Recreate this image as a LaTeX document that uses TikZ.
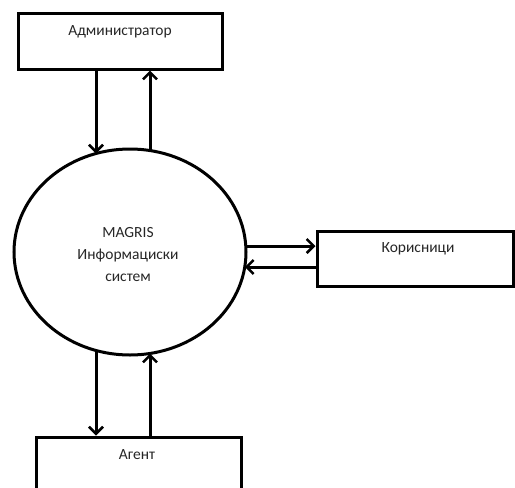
\documentclass[tikz,border=0pt]{standalone}
\usepackage{fontspec}
\setmainfont{Carlito}
\usetikzlibrary{shapes.geometric,arrows.meta}
\tikzset{
  px/.style={x=1pt,y=-1pt},
  entity/.style={draw=black,line width=3pt,rectangle,inner sep=0pt},
  proc/.style={draw=black,line width=3pt,ellipse,inner sep=0pt,minimum width=232pt,minimum height=206pt},
  lbl/.style={text=black!85,font=\fontsize{15.5}{22}\selectfont,align=center,inner sep=0pt},
  flow/.style={line width=3pt,-{Straight Barb[length=7pt,width=14pt,line width=2.5pt]}}
}
\begin{document}
\begin{tikzpicture}[px]
\useasboundingbox (0,0) rectangle (515,488);
% boxes
\node[entity,minimum width=204pt,minimum height=56pt] (admin) at (120,41) {};
\node[lbl] (admintxt) at (120,32) {Администратор};
\node[entity,minimum width=196pt,minimum height=55pt] (kor) at (415,258.5) {};
\node[lbl] (kortxt) at (418,249) {Корисници};
\node[entity,minimum width=205pt,minimum height=90pt] (agent) at (138.5,482) {};
\node[lbl] (agenttxt) at (137,455) {Агент};
% process
\node[proc] (sys) at (130,252) {};
\node[lbl] (systxt) at (128,255) {MAGRIS\\Информациски\\систем};
% points on the ellipse
\coordinate (s1) at (96,153.5);
\coordinate (s2) at (150,150.5);
\coordinate (s3) at (245.8,246);
\coordinate (s4) at (244.8,267);
\coordinate (s5) at (96,350.5);
\coordinate (s6) at (150,353.5);
% flows
\draw[flow] (admin.south -| s1) -- (s1);
\draw[flow] (s2) -- (admin.south -| s2);
\draw[flow] (s3) -- (kor.west |- s3);
\draw[flow] (kor.west |- s4) -- (s4);
\draw[flow] (s5) -- (agent.north -| s5);
\draw[flow] (agent.north -| s6) -- (s6);
\end{tikzpicture}
\end{document}
